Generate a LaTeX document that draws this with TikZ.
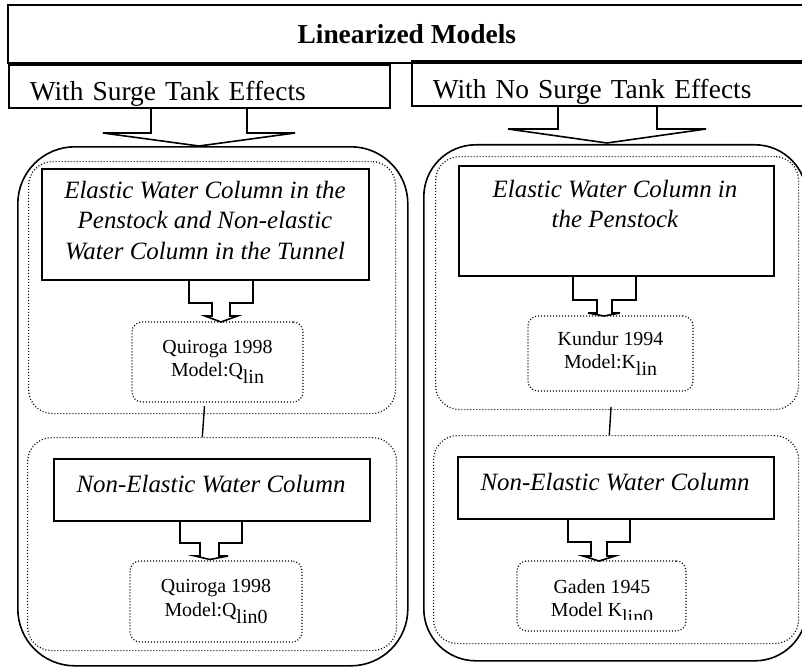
\documentclass[tikz,border=0pt]{standalone}
\usepackage{fontspec}
\setmainfont{Liberation Serif}
\newcommand\dgTitle{\fontsize{27.5}{33}\selectfont\bfseries}
\newcommand\dgSub{\fontsize{27.5}{33}\selectfont}
\newcommand\dgIt{\fontsize{25}{30.5}\selectfont\itshape}
\newcommand\dgSm{\fontsize{20}{23.5}\selectfont}
\begin{document}
\begin{tikzpicture}[x=1bp,y=-1bp,
  sline/.style={draw=black, line width=1.6bp},
  sbox/.style={sline, rectangle, inner sep=0pt},
  dline/.style={draw=black, line width=1.2bp, dash pattern=on 1bp off 2bp},
  grp/.style={dline, rectangle, rounded corners=24bp, inner sep=0pt, anchor=north west},
  big/.style={sline, rectangle, inner sep=0pt, anchor=north west},
  model/.style={dline, rectangle, rounded corners=10bp, inner sep=0pt, align=center, font=\dgSm},
  itext/.style={font=\dgIt, align=center, inner sep=0pt},
  stext/.style={font=\dgSm, align=center, inner sep=0pt},
  barrow/.style={sline, line join=miter}
]
\useasboundingbox (0,0) rectangle (802,668);
\clip (0,0) rectangle (802,668);

% title and headings
\node[sbox, minimum width=798bp, minimum height=58bp, anchor=north west, font=\dgTitle] (title) at (7,4) {Linearized Models};
\node[sbox, anchor=south west, text width=339bp, align=left, inner xsep=21bp, inner ysep=1.5bp,
      text height=34bp, text depth=6bp, font=\dgSub] (lsub) at (8,109) {With Surge Tank Effects};
\node[sbox, anchor=south west, text width=377bp, align=left, inner xsep=21bp, inner ysep=1.5bp,
      text height=36bp, text depth=6bp, font=\dgSub] (rsub) at (411,107) {With No Surge Tank Effects};

% big containers
\node[big, rounded corners=57bp, minimum width=390bp, minimum height=519bp] (lbig) at (17,146) {};
\node[big, rounded corners=52bp, minimum width=383bp, minimum height=516bp] (rbig) at (423,144) {};

% block arrows from headings
\draw[barrow] (151,109) -- (151,133) -- (103,133) -- (199,146) -- (295,133) -- (247,133) -- (247,109);
\draw[barrow] (558,107) -- (558,129) -- (508,129) -- (607,143) -- (706,129) -- (657,129) -- (657,107);

% dotted groups
\node[grp, minimum width=367bp, minimum height=252bp] (lgrpA) at (28,161) {};
\node[grp, minimum width=369bp, minimum height=213bp] (lgrpB) at (27,437) {};
\node[grp, minimum width=363bp, minimum height=253bp] (rgrpA) at (435,156) {};
\node[grp, minimum width=365bp, minimum height=208bp] (rgrpB) at (433,435) {};

% rectangles
\node[sbox, minimum width=327bp, minimum height=111bp, anchor=north west] (lel) at (41,168) {};
\node[itext, anchor=north] (lelt) at (205,181) {Elastic Water Column in the\\Penstock and Non-elastic\\Water Column in the Tunnel};
\node[sbox, minimum width=315bp, minimum height=110bp, anchor=north west] (rel) at (458,165) {};
\node[itext, anchor=north] (relt) at (615,180) {Elastic Water Column in\\the Penstock};
\node[sbox, minimum width=316bp, minimum height=62bp, anchor=north west] (lne) at (53,458) {};
\node[itext, anchor=base] (lnet) at (211,492) {Non-Elastic Water Column};
\node[sbox, minimum width=316bp, minimum height=62bp, anchor=north west] (rne) at (457,456) {};
\node[itext, anchor=base] (rnet) at (615,490) {Non-Elastic Water Column};

% small block arrows
\draw[barrow] (189,279) -- (189,303) -- (212,303) -- (212,316) -- (205,316) -- (221,322) -- (237.5,316) -- (230,316) -- (230,303) -- (253,303) -- (253,279);
\draw[barrow] (573,275) -- (573,300) -- (597,300) -- (597,313) -- (588,313) -- (604,316) -- (620,313) -- (612,313) -- (612,300) -- (636,300) -- (636,275);
\draw[barrow] (180,520) -- (180,543) -- (200,543) -- (200,556) -- (195,556) -- (210,559.5) -- (228,556) -- (219,556) -- (219,543) -- (242,543) -- (242,520);
\draw[barrow] (568,518) -- (568,542) -- (591,542) -- (591,556) -- (583,556) -- (599,561) -- (615,556) -- (607,556) -- (607,542) -- (630,542) -- (630,518);

% model boxes
\node[model, minimum width=171bp, minimum height=80bp] (qlin) at (217.5,362) {Quiroga 1998\\Model:Q\raisebox{-7bp}{lin}};
\node[model, minimum width=165bp, minimum height=75bp] (klin) at (610.5,353.5) {Kundur 1994\\Model:K\raisebox{-7bp}{lin}};
\node[model, minimum width=172bp, minimum height=81bp] (qlinz) at (216,601.5) {Quiroga 1998\\Model:Q\raisebox{-7bp}{lin0}};
\node[model, minimum width=169bp, minimum height=70bp] (klinz) at (601.5,596) {};
\begin{scope}
  \clip (510,565) rectangle (695,619.5);
  \node[stext, anchor=north] (klinzt) at (602,579.5) {Gaden 1945\\Model K\raisebox{-7bp}{lin0}};
\end{scope}

% connectors between groups
\coordinate (c1a) at (204.5,406);
\coordinate (c1b) at (202.3,437);
\coordinate (c2a) at (611,407);
\coordinate (c2b) at (609.3,435);
\draw[sline, line width=1.4bp] (c1a) -- (c1b);
\draw[sline, line width=1.4bp] (c2a) -- (c2b);
\end{tikzpicture}
\end{document}
